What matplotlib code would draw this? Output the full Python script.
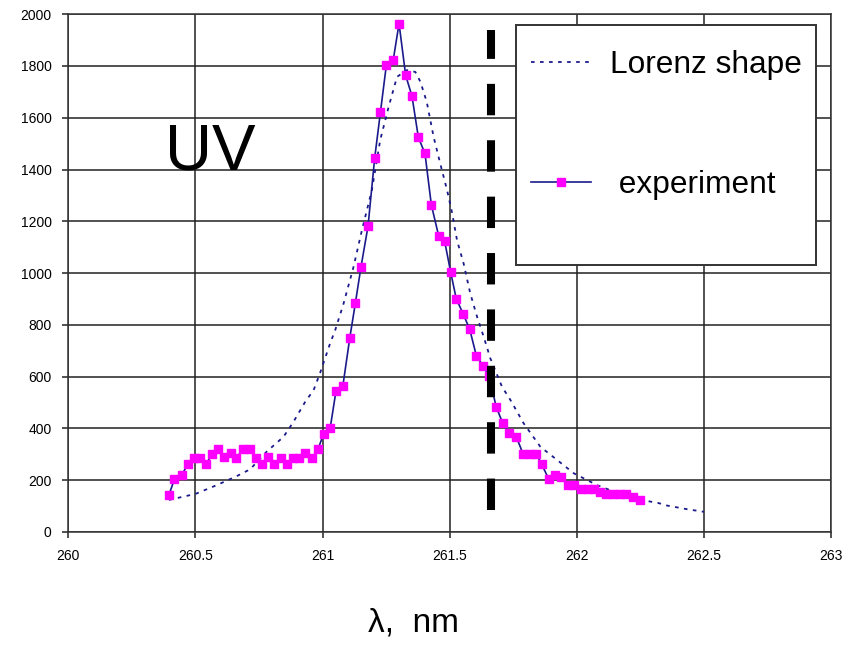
import matplotlib
matplotlib.use("Agg")
import matplotlib.pyplot as plt
from matplotlib.patches import Rectangle
from matplotlib.lines import Line2D

# ---------------- data ----------------
exp_x = [260.396, 260.417, 260.446, 260.47, 260.496, 260.519, 260.542, 260.565, 260.589, 260.613,
         260.639, 260.66, 260.686, 260.713, 260.739, 260.763, 260.787, 260.811, 260.836, 260.86,
         260.883, 260.908, 260.933, 260.958, 260.982, 261.004, 261.03, 261.053, 261.08, 261.107,
         261.129, 261.151, 261.179, 261.205, 261.228, 261.251, 261.278, 261.301, 261.327, 261.352,
         261.377, 261.403, 261.428, 261.457, 261.48, 261.504, 261.526, 261.553, 261.579, 261.605,
         261.632, 261.655, 261.683, 261.708, 261.734, 261.763, 261.789, 261.815, 261.841, 261.862,
         261.889, 261.915, 261.939, 261.967, 261.988, 262.017, 262.043, 262.067, 262.093, 262.117,
         262.143, 262.172, 262.193, 262.222, 262.248]
exp_y = [143, 203, 220, 261, 284, 284, 262, 301, 319, 288,
         304, 284, 319, 319, 284, 262, 288, 262, 284, 262,
         284, 284, 304, 284, 319, 378, 400, 545, 564, 748,
         883, 1022, 1181, 1443, 1623, 1803, 1822, 1964, 1764, 1683,
         1524, 1462, 1264, 1143, 1125, 1004, 901, 843, 783, 681,
         641, 602, 484, 422, 383, 366, 301, 301, 301, 262,
         206, 220, 214, 180, 180, 167, 167, 165, 156, 147,
         147, 147, 147, 136, 124]

lor_x = [260.396, 260.5, 260.584, 260.663, 260.715, 260.78, 260.847, 260.886, 260.932, 260.965,
         260.99, 261.01, 261.03, 261.05, 261.083, 261.122, 261.155, 261.194, 261.227, 261.26,
         261.293, 261.332, 261.365, 261.385, 261.41, 261.437, 261.463, 261.49, 261.51, 261.529,
         261.555, 261.581, 261.608, 261.634, 261.66, 261.706, 261.739, 261.791, 261.857, 261.923,
         261.988, 262.08, 262.146, 262.25, 262.317, 262.356, 262.434, 262.5]
lor_y = [124, 147, 181, 216, 242, 310, 368, 426, 503, 548,
         613, 671, 729, 780, 883, 1024, 1166, 1320, 1514, 1642,
         1758, 1784, 1777, 1739, 1661, 1526, 1423, 1320, 1231, 1127,
         1037, 922, 831, 754, 671, 561, 510, 420, 329, 278,
         227, 181, 156, 124, 113, 102, 88, 78]

cut_x = [261.664, 261.664]
cut_y = [85, 1938]

x_ticks = [260, 260.5, 261, 261.5, 262, 262.5, 263]
x_tick_labels = ["260", "260.5", "261", "261.5", "262", "262.5", "263"]
y_ticks = [0, 200, 400, 600, 800, 1000, 1200, 1400, 1600, 1800, 2000]

labels = ["Lorenz shape", " experiment"]

# ---------------- figure ----------------
plt.rcParams['font.family'] = ['Liberation Sans', 'DejaVu Sans']
fig = plt.figure(figsize=(8.58, 6.45), dpi=100)
ax = fig.add_axes([0.0796, 0.1752, 0.8889, 0.8028])

navy = '#1a1a8c'
ax.plot(lor_x, lor_y, color=navy, lw=1.3, linestyle=(0, (2, 3)), zorder=3)
ax.plot(exp_x, exp_y, color=navy, lw=1.2, marker='s', markersize=6.2,
        markerfacecolor='#ff00ff', markeredgecolor='#ff00ff', zorder=4)
ax.plot(cut_x, cut_y, color='black', lw=5.8, linestyle=(0, (3.9, 3.1)),
        solid_capstyle='butt', dash_capstyle='butt', zorder=5)

ax.set_xlim(260, 263)
ax.set_ylim(0, 2000)
ax.set_xticks(x_ticks)
ax.set_xticklabels(x_tick_labels)
ax.set_yticks(y_ticks)
ax.grid(True, color='#222222', lw=1.1)
ax.set_axisbelow(True)
for s in ax.spines.values():
    s.set_color('#333333')
    s.set_linewidth(1.1)
ax.tick_params(direction='out', length=4, width=1.1, color='#222222',
               labelsize=10, pad=8)

ax.text(165 / 858, 1 - 152 / 645, "UV", transform=fig.transFigure,
        fontsize=47, va='center', ha='left')

fig.text(413 / 858, 1 - 623 / 645, "λ,  nm", fontsize=24, ha='center', va='center')

# legend box
box = Rectangle((0.587, 0.516), 0.393, 0.463, transform=ax.transAxes,
                facecolor='white', edgecolor='#333333', lw=1.4, zorder=6)
ax.add_patch(box)
h1 = Line2D([], [], color=navy, lw=1.3, linestyle=(0, (2, 3)))
h2 = Line2D([], [], color=navy, lw=1.2, marker='s', markersize=6.2,
            markerfacecolor='#ff00ff', markeredgecolor='#ff00ff')
leg = ax.legend([h1, h2], labels, loc='upper left', bbox_to_anchor=(0.607, 0.930),
                frameon=False, fontsize=22.8, handlelength=1.9, handletextpad=0.6,
                labelspacing=2.83, borderpad=0, borderaxespad=0)
leg.set_zorder(7)

fig.savefig("out.png", dpi=100)
